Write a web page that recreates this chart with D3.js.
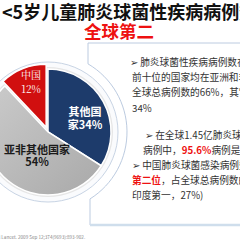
<!DOCTYPE html>
<html>
<head>
<meta charset="utf-8">
<script src="https://cdn.jsdelivr.net/npm/d3@7"></script>
<style>
  html, body { margin: 0; padding: 0; background: #fff; }
  svg { display: block; font-family: "Noto Sans CJK SC", "Noto Sans", sans-serif; }
</style>
</head>
<body>
<div id="chart"></div>
<script>
// slice data
const categories = ["其他国家", "亚非其他国家", "中国"];
const values = [34, 54, 12];
const sliceColors = ["#1d3b6b", "#b3b3b3", "#d10f0f"];

// bullet text, each line is a list of [text, highlight]
const notes = [
    [["➢ ", false], ["肺炎球菌性疾病病例数在全球", false]],
    [["前十位的国家均在亚洲和非洲，", false]],
    [["全球总病例数的66%，其它国家占", false]],
    [["34%", false]],
    [["➢ ", false], ["在全球1.45亿肺炎球菌感染", false]],
    [["病例中，", false], ["95.6%", true], ["病例是", false], ["肺炎", true]],
    [["➢ ", false], ["中国肺炎球菌感染病例数居", false]],
    [["第二位", true], ["，占全球总病例数的12%", false]],
    [["印度第一，27%)", false]]
];
const noteX = [130, 132, 132, 132, 145, 143, 132, 132, 132];

const width = 240, height = 240;
const svg = d3.select("#chart").append("svg")
    .attr("width", width)
    .attr("height", height);

const defs = svg.append("defs");
const grayGrad = defs.append("linearGradient")
    .attr("id", "grayGrad")
    .attr("x1", "0%").attr("y1", "0%")
    .attr("x2", "100%").attr("y2", "100%");
grayGrad.append("stop").attr("offset", "0%").attr("stop-color", "#cbcbcb");
grayGrad.append("stop").attr("offset", "100%").attr("stop-color", "#a9a9a9");

// title
svg.append("text")
    .attr("x", 2).attr("y", 19)
    .attr("font-size", 18)
    .attr("font-weight", "bold")
    .attr("fill", "#111")
    .text("<5岁儿童肺炎球菌性疾病病例数分布");

svg.append("text")
    .attr("x", 119).attr("y", 38)
    .attr("text-anchor", "middle")
    .attr("font-size", 17.5)
    .attr("font-weight", "bold")
    .attr("fill", "#ee1111")
    .text("全球第二");

const cx = 48, cy = 132, r = 63;

// text box with circular cut
const boxPath = d3.path();
const outerR = 79;
const yTop = cy - Math.sqrt(outerR * outerR - 40 * 40);
const yBot = cy + Math.sqrt(outerR * outerR - 42 * 42);
boxPath.moveTo(260, 43);
boxPath.lineTo(88, 43);
boxPath.lineTo(88, yTop);
boxPath.arc(cx, cy, outerR, Math.atan2(yTop - cy, 40), Math.atan2(yBot - cy, 42), false);
boxPath.lineTo(90, 225);
svg.append("path")
    .attr("d", boxPath.toString())
    .attr("fill", "none")
    .attr("stroke", "#bccbe0")
    .attr("stroke-width", 1);

svg.append("line")
    .attr("x1", 90).attr("x2", 240)
    .attr("y1", 225).attr("y2", 225)
    .attr("stroke", "#cfdeec")
    .attr("stroke-width", 2.5);

// inner ring
svg.append("circle")
    .attr("cx", cx).attr("cy", cy).attr("r", 70)
    .attr("fill", "#fafbfd")
    .attr("stroke", "#c8d4e4")
    .attr("stroke-width", 1);

svg.append("circle")
    .attr("cx", cx).attr("cy", cy).attr("r", 65)
    .attr("fill", "#e6e6e6");

// pie
const pie = d3.pie().sort(null).value(d => d)(values);
const arc = d3.arc().innerRadius(0).outerRadius(r);

const g = svg.append("g").attr("transform", `translate(${cx},${cy})`);
g.selectAll("path.slice")
    .data(pie)
    .join("path")
    .attr("class", "slice")
    .attr("d", arc)
    .attr("transform", (d, i) => {
        if (i !== 2) return null;
        const [x, y] = arc.centroid(d);
        const k = 5 / Math.hypot(x, y);
        return `translate(${x * k},${y * k})`;
    })
    .attr("fill", (d, i) => i === 1 ? "url(#grayGrad)" : sliceColors[i])
    .attr("stroke", "#fff")
    .attr("stroke-width", 1.5);

// slice labels
const labelLines = [["其他国", "家34%"], ["亚非其他国家", "54%"], ["中国", "12%"]];
const labelPos = [[37, -16], [-11, 22], [-17, -53]];
const labelGap = [13, 12, 14];
const labelColors = ["#fff", "#1a1a1a", "#fff"];
labelLines.forEach((lines, i) => {
    const t = g.append("text")
        .attr("text-anchor", "middle")
        .attr("font-size", i === 2 ? 10 : 11)
        .attr("font-weight", i === 2 ? "normal" : "bold")
        .attr("font-family", i === 2 ? "'Noto Serif CJK SC', serif" : null)
        .attr("fill", labelColors[i]);
    lines.forEach((s, j) => {
        t.append("tspan")
            .attr("x", labelPos[i][0])
            .attr("y", labelPos[i][1] + j * labelGap[i])
            .text(s);
    });
});

// notes
const lineY = [66, 81, 96, 112, 139, 154, 169, 184, 199];
notes.forEach((parts, i) => {
    const t = svg.append("text")
        .attr("x", noteX[i])
        .attr("y", lineY[i])
        .attr("font-size", 9.7)
        .attr("fill", "#333");
    parts.forEach(([s, hi]) => {
        t.append("tspan")
            .attr("fill", hi ? "#ee1111" : "#333")
            .attr("font-weight", hi ? "bold" : "normal")
            .text(s);
    });
});

// footnote
svg.append("text")
    .attr("x", -1).attr("y", 239)
    .attr("font-size", 4.6)
    .attr("fill", "#888")
    .text("l Lancet. 2009 Sep 12;374(9693):893-902.");
</script>
</body>
</html>
